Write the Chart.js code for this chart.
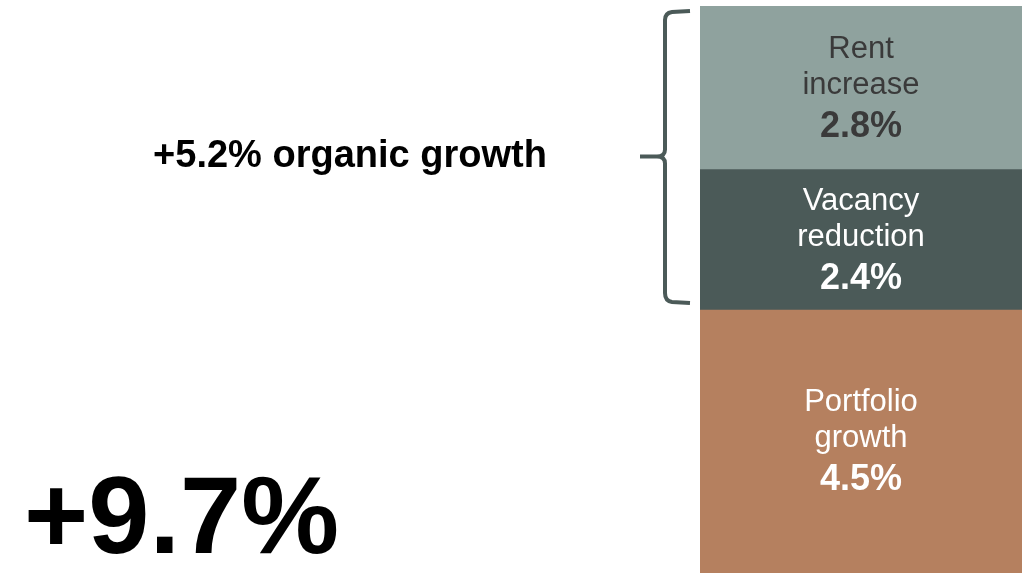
<!DOCTYPE html>
<html>
<head>
<meta charset="utf-8">
<title>Growth breakdown</title>
<script src="https://cdn.jsdelivr.net/npm/chart.js@4/dist/chart.umd.min.js"></script>
<style>
  html, body { margin: 0; padding: 0; background: #fff; }
  #wrap { position: relative; width: 1026px; height: 573px; }
</style>
</head>
<body>
<div id="wrap"><canvas id="growth"></canvas></div>
<script>
// Segments, listed from the bottom of the stack to the top
const categories = ['Growth'];
const segmentNames = [['Portfolio', 'growth'], ['Vacancy', 'reduction'], ['Rent', 'increase']];
const segmentValues = [4.5, 2.4, 2.8];
const segmentColors = ['#b5805f', '#4b5a58', '#8fa29e'];
const labelColors = ['#ffffff', '#ffffff', '#3a3a3a'];

const FONT = "'Liberation Sans', Arial, Helvetica, sans-serif";
const total = segmentValues.reduce((a, b) => a + b, 0);
const organic = segmentValues[1] + segmentValues[2];

// Writes name + value in the middle of each stacked segment
const segmentLabels = {
    id: 'segmentLabels',
    afterDatasetsDraw(chart) {
        const ctx = chart.ctx;
        ctx.save();
        ctx.textAlign = 'center';
        ctx.textBaseline = 'alphabetic';
        chart.data.datasets.forEach((ds, i) => {
            const bar = chart.getDatasetMeta(i).data[0];
            const cx = bar.x;
            const cy = (bar.y + bar.base) / 2;
            ctx.fillStyle = labelColors[i];
            ctx.font = '31px ' + FONT;
            ctx.fillText(segmentNames[i][0], cx, cy - 30);
            ctx.fillText(segmentNames[i][1], cx, cy + 6);
            ctx.font = 'bold 36px ' + FONT;
            ctx.fillText(ds.data[0].toFixed(1) + '%', cx, cy + 49);
        });
        ctx.restore();
    }
};

// Curly brace over the organic part and the headline figures
const annotations = {
    id: 'annotations',
    afterDraw(chart) {
        const ctx = chart.ctx;
        const y = chart.scales.y;
        const top = y.getPixelForValue(total) + 5;
        const bottom = y.getPixelForValue(segmentValues[0]) - 8;
        const mid = (top + bottom) / 2;
        const xLine = 665, xEnd = 690, xTip = 640;

        ctx.save();
        ctx.strokeStyle = '#4b5a58';
        ctx.lineWidth = 4;
        ctx.lineCap = 'butt';
        ctx.beginPath();
        ctx.moveTo(xEnd, top);
        ctx.lineTo(xLine + 7, top + 1);
        ctx.quadraticCurveTo(xLine, top + 2, xLine, top + 9);
        ctx.lineTo(xLine, mid - 7);
        ctx.quadraticCurveTo(xLine, mid, xLine - 8, mid);
        ctx.lineTo(xTip, mid);
        ctx.moveTo(xLine - 8, mid);
        ctx.quadraticCurveTo(xLine, mid, xLine, mid + 7);
        ctx.lineTo(xLine, bottom - 9);
        ctx.quadraticCurveTo(xLine, bottom - 1, xLine + 7, bottom);
        ctx.lineTo(xEnd, bottom + 1);
        ctx.stroke();

        ctx.fillStyle = '#000';
        ctx.textBaseline = 'alphabetic';
        ctx.textAlign = 'center';
        ctx.font = 'bold 38px ' + FONT;
        ctx.fillText('+' + organic.toFixed(1) + '% organic growth', 350, 167);

        ctx.textAlign = 'left';
        ctx.font = 'bold 110px ' + FONT;
        ctx.fillText('+' + total.toFixed(1) + '%', 24, 553);
        ctx.restore();
    }
};

new Chart(document.getElementById('growth'), {
    type: 'bar',
    data: {
        labels: categories,
        datasets: segmentValues.map((v, i) => ({
            label: segmentNames[i].join(' '),
            data: [v],
            backgroundColor: segmentColors[i],
            borderWidth: 0,
            barPercentage: 1,
            categoryPercentage: 1
        }))
    },
    options: {
        responsive: true,
        maintainAspectRatio: false,
        animation: false,
        layout: { padding: { left: 700, right: 4, top: 6, bottom: 0 } },
        plugins: {
            legend: { display: false },
            tooltip: { enabled: false }
        },
        scales: {
            x: { stacked: true, display: false },
            y: { stacked: true, display: false, min: 0, max: total }
        }
    },
    plugins: [segmentLabels, annotations]
});
</script>
</body>
</html>
